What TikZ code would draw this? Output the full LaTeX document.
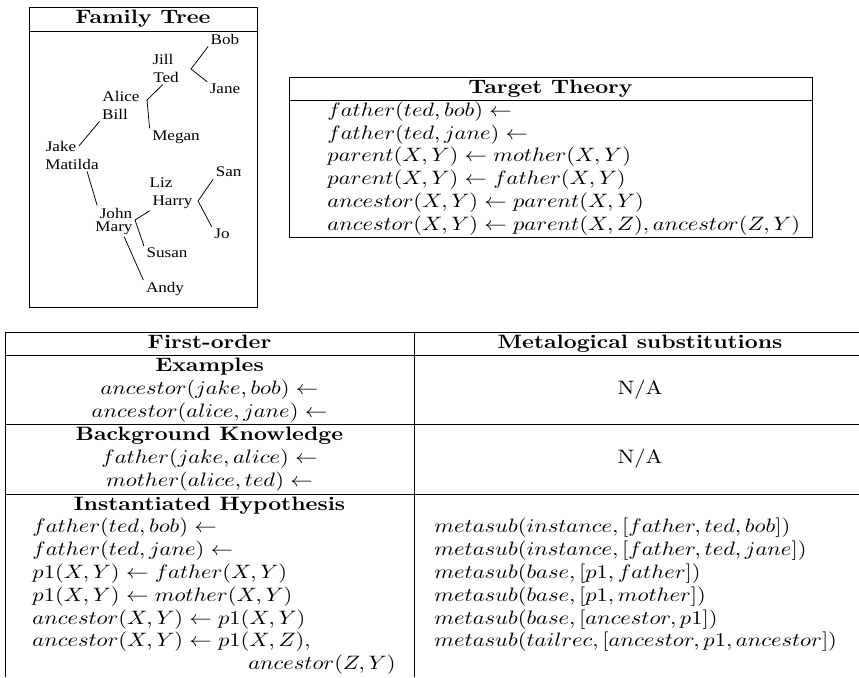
\documentclass[tikz,border=0pt]{standalone}
\usepackage{fontspec}
\usepackage{amsmath}
\newfontfamily\treefont{Liberation Serif}
\usetikzlibrary{calc,positioning}

\begin{document}
\begin{tikzpicture}[x=0.4444pt,y=-0.5155pt,xscale=1.16,transform shape,
  person/.style={font=\treefont\fontsize{7.6}{9}\selectfont,inner sep=1pt},
  head/.style={font=\bfseries,anchor=base,inner sep=0pt},
  mid/.style={anchor=base,inner sep=0pt},
  lft/.style={anchor=base west,inner sep=0pt}]
  \useasboundingbox (0,0) rectangle (859,677);

  % family tree
  \draw (29,7) rectangle (257,307);
  \draw (29,31) -- (257,31);
  \node[head] (famtitle) at (143,23.5) {Family Tree};
  \begin{scope}
    \clip (29,31) rectangle (240,307);
    \node[person] (bob) at (225,39) {Bob};
    \node[person] (jill) at (163,59) {Jill};
    \node[person] (ted) at (166,77) {Ted};
    \node[person] (jane) at (225,89) {Jane};
    \node[person] (alice) at (121,96) {Alice};
    \node[person] (bill) at (115,114) {Bill};
    \node[person] (megan) at (176,137) {Megan};
    \node[person] (jake) at (61,146) {Jake};
    \node[person] (matilda) at (72,164) {Matilda};
    \node[person] (sam) at (231,172) {Sam};
    \node[person] (liz) at (161,183) {Liz};
    \node[person] (harry) at (172.5,202) {Harry};
    \node[person] (john) at (116,213) {John};
    \node[person] (mary) at (114,228) {Mary};
    \node[person] (jo) at (222,234) {Jo};
    \node[person] (susan) at (167,253) {Susan};
    \node[person] (andy) at (165,289) {Andy};
  \end{scope}
  \coordinate (tedfork) at (191,69);
  \coordinate (billfork) at (147,100);
  \coordinate (maryfork) at (135,220);
  \coordinate (harryfork) at (198,201);
  \draw (bob.south west) -- (tedfork) -- (jane.north west);
  \draw (ted.250) -- (billfork) -- (megan.north west);
  \draw (jake.east) -- (bill.south west);
  \draw (matilda.-30) -- (john.north west);
  \draw (harry.south west) -- (maryfork) -- (susan.north west);
  \draw (mary.-45) -- (andy.north west);
  \draw (sam.south west) -- (harryfork) -- (jo.north west);

  % target theory
  \draw (289,77) rectangle (812,237);
  \draw (289,100) -- (812,100);
  \node[head] (tttitle) at (550.5,93.3) {Target Theory};
  \node[lft] (tt1) at (327,116.3) {$father(ted,bob) \leftarrow$};
  \node[lft] (tt2) at (327,139.1) {$father(ted,jane) \leftarrow$};
  \node[lft] (tt3) at (327,161.9) {$parent(X,Y) \leftarrow mother(X,Y)$};
  \node[lft] (tt4) at (327,184.7) {$parent(X,Y) \leftarrow father(X,Y)$};
  \node[lft] (tt5) at (327,207.5) {$ancestor(X,Y) \leftarrow parent(X,Y)$};
  \node[lft] (tt6) at (327,230.3) {$ancestor(X,Y) \leftarrow parent(X,Z), ancestor(Z,Y)$};

  % first-order vs metalogical
  \foreach \y in {332,355,424,494}
    \draw (5,\y) -- (859,\y);
  \draw (5,332) -- (5,677);
  \draw (414,332) -- (414,677);
  \node[head] (fohead) at (209.5,348.4) {First-order};
  \node[head] (mshead) at (640,348.4) {Metalogical substitutions};

  \node[head] (exhead) at (209.5,371.4) {Examples};
  \node[mid] (ex1) at (209.5,394.4) {$ancestor(jake,bob) \leftarrow$};
  \node[mid] (ex2) at (209.5,417.4) {$ancestor(alice,jane) \leftarrow$};
  \node[mid] (exna) at (640,394.4) {N/A};

  \node[head] (bkhead) at (209.5,440.4) {Background Knowledge};
  \node[mid] (bk1) at (209.5,463.4) {$father(jake,alice) \leftarrow$};
  \node[mid] (bk2) at (209.5,486.4) {$mother(alice,ted) \leftarrow$};
  \node[mid] (bkna) at (640,463.4) {N/A};

  \node[head] (ihhead) at (209.5,510) {Instantiated Hypothesis};
  \node[lft] (ih1) at (32,532.8) {$father(ted,bob) \leftarrow$};
  \node[lft] (ih2) at (32,555.6) {$father(ted,jane) \leftarrow$};
  \node[lft] (ih3) at (32,578.4) {$p1(X,Y) \leftarrow father(X,Y)$};
  \node[lft] (ih4) at (32,601.2) {$p1(X,Y) \leftarrow mother(X,Y)$};
  \node[lft] (ih5) at (32,624) {$ancestor(X,Y) \leftarrow p1(X,Y)$};
  \node[lft] (ih6) at (32,646.8) {$ancestor(X,Y) \leftarrow p1(X,Z),$};
  \node[anchor=base east,inner sep=0pt] (ih7) at (396,669.6) {$ancestor(Z,Y)$};
  \node[lft] (ms1) at (434,532.8) {$metasub(instance,[father,ted,bob])$};
  \node[lft] (ms2) at (434,555.6) {$metasub(instance,[father,ted,jane])$};
  \node[lft] (ms3) at (434,578.4) {$metasub(base,[p1,father])$};
  \node[lft] (ms4) at (434,601.2) {$metasub(base,[p1,mother])$};
  \node[lft] (ms5) at (434,624) {$metasub(base,[ancestor,p1])$};
  \node[lft] (ms6) at (434,646.8) {$metasub(tailrec,[ancestor,p1,ancestor])$};
\end{tikzpicture}
\end{document}
